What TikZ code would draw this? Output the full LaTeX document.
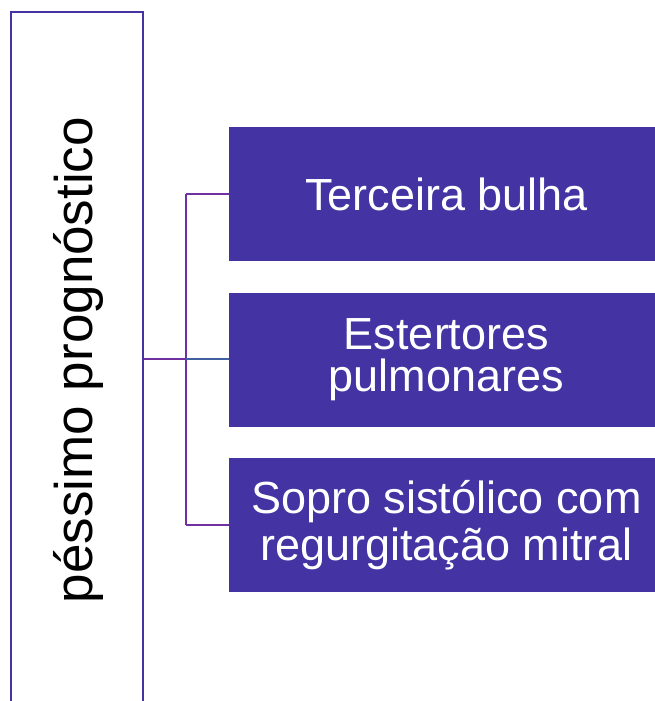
\documentclass[tikz,border=0pt]{standalone}
\usepackage{fontspec}
\setmainfont{Liberation Sans}
\definecolor{boxblue}{RGB}{67,51,163}
\definecolor{connpurple}{RGB}{112,48,160}
\definecolor{connblue}{RGB}{64,96,160}
\begin{document}
\begin{tikzpicture}[x=1pt,y=-1pt,
  rootbox/.style={draw=boxblue,line width=2.2pt,fill=white,minimum width=132pt,minimum height=698pt,inner sep=0pt},
  itembox/.style={fill=boxblue,draw=none,minimum width=435pt,minimum height=134pt,inner sep=0pt,text=white,align=center},
  conn/.style={draw=connpurple,line width=2.2pt},
  connb/.style={draw=connblue,line width=2.2pt}]
\useasboundingbox (0,0) rectangle (655,701);
\node[rootbox] (root) at (77,361) {};
\node[rotate=90,inner sep=0pt,font=\fontsize{53}{60}\selectfont] (rootlabel) at (78.5,360) {péssimo prognóstico};
\node[itembox,font=\fontsize{45}{50}\selectfont] (b1) at (446.5,194) {Terceira bulha};
\node[itembox,font=\fontsize{45}{42}\selectfont] (b2) at (446.5,360) {Estertores\\pulmonares};
\node[itembox,font=\fontsize{45}{47}\selectfont] (b3) at (446.5,525) {Sopro sistólico com\\regurgitação mitral};
\coordinate (jx) at (186,359);
\draw[conn] (root.east |- jx) -- (jx);
\draw[conn] (jx |- b1.west) -- (jx |- b3.west);
\draw[conn] (jx |- b1.west) -- (b1.west);
\draw[connb] (jx) -- (b2.west |- jx);
\draw[conn] (jx |- b3.west) -- (b3.west);
\end{tikzpicture}
\end{document}
